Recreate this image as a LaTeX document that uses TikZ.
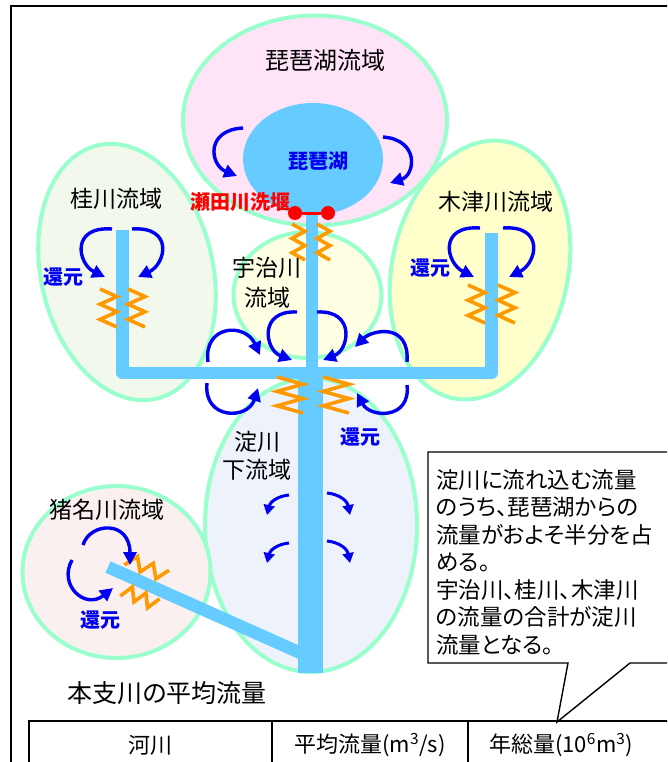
\documentclass[tikz,border=0pt]{standalone}
\usepackage{fontspec}
\setmainfont{Noto Sans CJK JP}[RawFeature=+palt]
\usetikzlibrary{positioning,arrows.meta}
\definecolor{basinline}{HTML}{99FFCC}
\definecolor{biwafill}{HTML}{FFE4F8}
\definecolor{katsurafill}{HTML}{F2F8EC}
\definecolor{kizufill}{HTML}{FFFFCC}
\definecolor{ujifill}{HTML}{FFFFE4}
\definecolor{yodofill}{HTML}{EEF2FA}
\definecolor{inafill}{HTML}{FAF0F0}
\definecolor{riverblue}{HTML}{66CCFF}
\definecolor{retblue}{HTML}{0000F0}
\definecolor{springorange}{HTML}{FF9900}
\definecolor{weirred}{HTML}{FF0000}
\tikzset{node distance=30pt,
  basin/.style={draw=basinline, line width=4pt},
  river/.style={draw=riverblue, line width=12.5pt},
  ret/.style={draw=retblue, line width=3.4pt, -{Triangle[length=13pt,width=13pt]}},
  retsmall/.style={draw=retblue, line width=3pt, -{Triangle[length=10pt,width=11pt]}},
  springline/.style={draw=springorange, line width=3.6pt},
  springpic/.pic={\draw[springline] (-1,0) -- (1,1) -- (-1,2) -- (1,3) -- (-1,4) -- (1,5);},
  weir/.style={circle, fill=weirred, minimum size=14pt, inner sep=0pt},
  basintext/.style={font=\fontsize{23}{28}\selectfont, inner sep=0pt},
  bluetext/.style={font=\fontsize{20}{24}\selectfont\bfseries, text=retblue, inner sep=0pt}
}
\begin{document}
\begin{tikzpicture}[x=1pt, y=-1pt]
\useasboundingbox (0,0) rectangle (667,762);
\clip (0,0) rectangle (667,762);

% basins
\draw[basin, fill=katsurafill, rotate around={13:(127,272)}] (127,272) ellipse [x radius=86pt, y radius=130pt];
\draw[basin, fill=kizufill, rotate around={-12:(480,270)}] (480,270) ellipse [x radius=88pt, y radius=131pt];
\draw[basin, fill=yodofill] (311,525) ellipse [x radius=106pt, y radius=147pt];
\draw[basin, fill=inafill] (116.5,572) ellipse [x radius=94pt, y radius=86pt];
\draw[basin, fill=ujifill] (307.5,295) ellipse [x radius=74pt, y radius=63pt];
\draw[basin, fill=biwafill] (315,120.5) ellipse [x radius=132pt, y radius=105pt];
\fill[riverblue] (313,159) ellipse [x radius=70pt, y radius=56pt];

% rivers
\draw[river, line join=round] (122.5,230) -- (122.5,373) -- (491.5,373) -- (491.5,233);
\draw[river] (312,214) -- (312,373);
\draw[river, line width=25pt] (310.5,372) -- (310.5,673);
\draw[river] (108,567) -- (305,655);

% weir
\node (weirL) [weir] at (295,213) {};
\node (weirR) [weir, right of=weirL, node distance=33pt] {};
\draw[weirred, line width=3pt] (weirL) -- (weirR);

% springs
\pic[xscale=6.5, yscale=7.2] at (298.5,224) {springpic};
\pic[xscale=6.5, yscale=7.2] at (323.5,224) {springpic};
\pic[xscale=8.5, yscale=7.6] at (108.5,289) {springpic};
\pic[xscale=8.5, yscale=7.6] at (136.5,289) {springpic};
\pic[xscale=8.5, yscale=7.6] at (476.5,285) {springpic};
\pic[xscale=8.5, yscale=7.6] at (506.5,285) {springpic};
\pic[xscale=13, yscale=7.2] at (290,377) {springpic};
\pic[xscale=13, yscale=7.2] at (336,377) {springpic};
\pic[rotate=66.4, xscale=6.5, yscale=8.6] at (127,559) {springpic};
\pic[rotate=66.4, xscale=6.5, yscale=7.4] at (123,590) {springpic};

% return flows
\draw[ret] (243,128) .. controls (205,130) and (210,165) .. (237,176);
\draw[ret] (383,137) .. controls (420,140) and (415,175) .. (390,183);
\draw[ret] (112,229) .. controls (70,226) and (78,264) .. (105,277);
\draw[ret] (132,229) .. controls (174,226) and (166,264) .. (138,277);
\draw[ret] (480,228) .. controls (438,225) and (446,263) .. (474,277);
\draw[ret] (503,228) .. controls (545,225) and (537,263) .. (509,277);
\draw[ret] (297,312) .. controls (258,310) and (265,350) .. (292,360);
\draw[ret] (317,312) .. controls (356,310) and (349,350) .. (323,360);
\draw[ret] (208,362) .. controls (203,325) and (245,322) .. (260,355);
\draw[ret] (407,362) .. controls (410,322) and (372,330) .. (355,347);
\draw[ret] (207,383) .. controls (203,420) and (248,420) .. (258,388);
\draw[ret] (407,385) .. controls (411,420) and (370,418) .. (357,393);
\draw[retsmall] (289,495) .. controls (278,496) and (270,502) .. (267,515);
\draw[retsmall] (289,543) .. controls (278,544) and (270,550) .. (267,563);
\draw[retsmall] (327,493) .. controls (338,494) and (347,500) .. (350,515);
\draw[retsmall] (327,541) .. controls (338,542) and (347,548) .. (350,563);
\draw[ret] (83,545) .. controls (90,522) and (130,520) .. (130,565);
\draw[ret] (72,560) .. controls (58,585) and (85,610) .. (113,588);

% labels
\node (biwaBasin) [basintext, font=\fontsize{24}{28}\selectfont] at (325,60) {琵琶湖流域};
\node (biwaLake) [bluetext] at (318,161) {琵琶湖};
\node (seta) [bluetext, text=weirred] at (240,202) {瀬田川洗堰};
\node (katsura) [basintext] at (116,199) {桂川流域};
\node (kizu) [basintext] at (496,202) {木津川流域};
\node (ujiA) [basintext] at (267,268) {宇治川};
\node (ujiB) [basintext, below of=ujiA] {流域};
\node (yodoA) [basintext] at (257,442) {淀川};
\node (yodoB) [basintext, below of=yodoA, node distance=28pt] {下流域};
\node (ina) [basintext] at (107,510) {猪名川流域};
\node (retK) [bluetext] at (63,277) {還元};
\node (retZ) [bluetext] at (430,268) {還元};
\node (retY) [bluetext] at (360,437) {還元};
\node (retI) [bluetext] at (100,620) {還元};

% note
\draw[fill=white, line width=1.4pt] (428,663) -- (428,452) -- (690,452) -- (690,663) -- (630,663) -- (557,722) -- (568,663) -- cycle;
\node (note) [anchor=north west, align=left, inner sep=0pt, font=\fontsize{22.5}{27.5}\selectfont] at (436,469)
  {淀川に流れ込む流量\\のうち、琵琶湖からの\\流量がおよそ半分を占\\める。\\宇治川、桂川、木津川\\の流量の合計が淀川\\流量となる。};

% frame and table
\draw[line width=2.2pt] (11,780) -- (11,6) -- (690,6);
\node (title) [basintext, font=\fontsize{25}{30}\selectfont] at (167,693) {本支川の平均流量};
\draw[line width=2.2pt] (29,780) -- (29,721) -- (690,721);
\draw[line width=2.2pt] (272,721) -- (272,780);
\draw[line width=2.2pt] (468,721) -- (468,780);
\node (hRiver) [basintext, font=\fontsize{22}{26}\selectfont] at (150,745) {河川};
\node (hMean) [basintext, font=\fontsize{22}{26}\selectfont] at (370,745) {平均流量(m\textsuperscript{3}/s)};
\node (hYear) [basintext, font=\fontsize{22}{26}\selectfont] at (561,745) {年総量(10\textsuperscript{6}m\textsuperscript{3})};
\end{tikzpicture}
\end{document}
